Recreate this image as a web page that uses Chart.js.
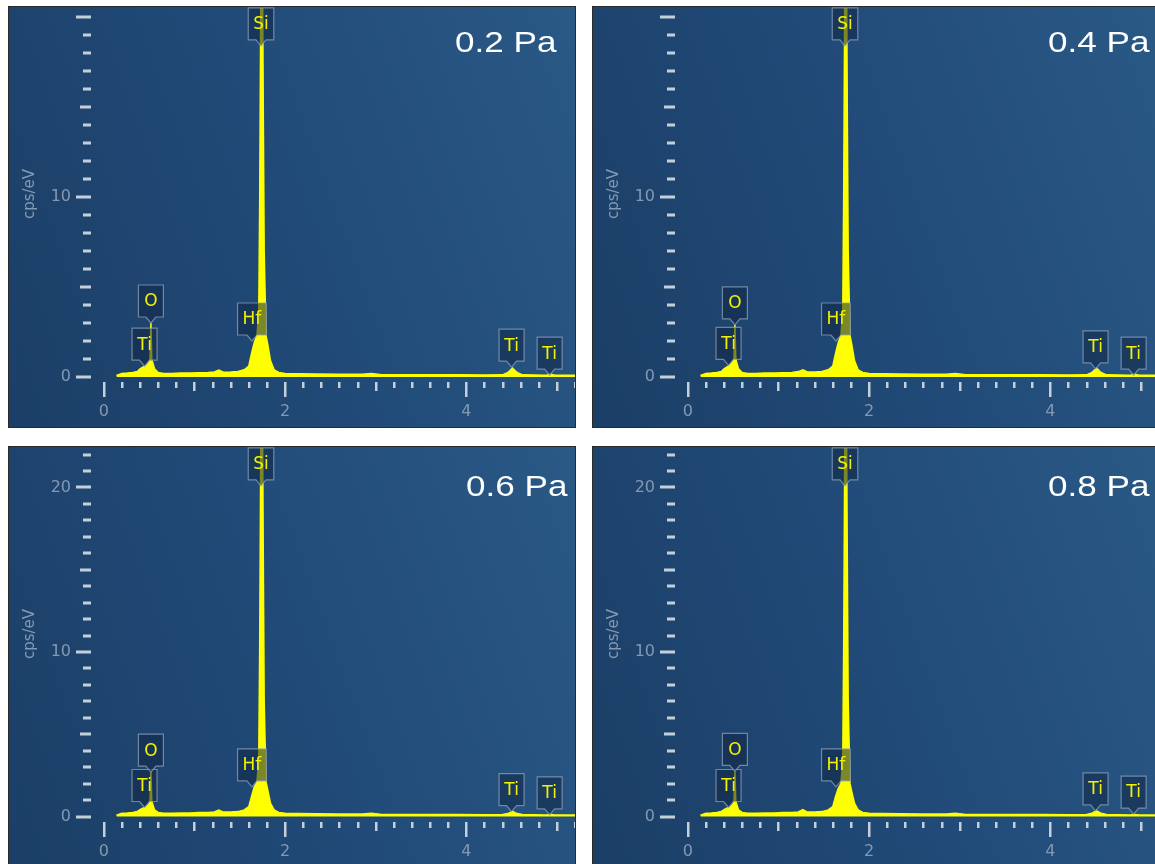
<!DOCTYPE html>
<html>
<head>
<meta charset="utf-8">
<script src="https://cdn.jsdelivr.net/npm/chart.js@4.4.0/dist/chart.umd.min.js"></script>
<style>
  body { margin: 0; background: #fff; width: 1155px; height: 864px; overflow: hidden; position: relative; }
  .panel { position: absolute; width: 566px; height: 420px; border: 1px solid #2a2a2a;
    background: linear-gradient(70deg, #1b3f66 0%, #214a78 50%, #2a5986 100%); }
  .panel canvas { display: block; }
  .pa { position: absolute; font-family: "Liberation Sans", Arial, sans-serif; font-size: 29px;
    line-height: 29px; color: #fff; transform: scaleX(1.21); transform-origin: left top; white-space: nowrap; }
</style>
</head>
<body>
<div class="panel" style="left:8px;top:6px"><canvas id="c1" width="566" height="420"></canvas></div>
<div class="panel" style="left:592px;top:6px"><canvas id="c2" width="566" height="420"></canvas></div>
<div class="panel" style="left:8px;top:446px"><canvas id="c3" width="566" height="420"></canvas></div>
<div class="panel" style="left:592px;top:446px"><canvas id="c4" width="566" height="420"></canvas></div>
<div class="pa" style="left:455px;top:28px">0.2 Pa</div>
<div class="pa" style="left:1048px;top:28px">0.4 Pa</div>
<div class="pa" style="left:466px;top:472px">0.6 Pa</div>
<div class="pa" style="left:1048px;top:472px">0.8 Pa</div>
<script>
// energy axis (keV), shared by all four spectra
const energy = [0.14, 0.20, 0.26, 0.32, 0.37, 0.40, 0.43, 0.46, 0.49, 0.51, 0.52, 0.53, 0.54, 0.56, 0.60,
  0.66, 0.75, 0.85, 0.95, 1.05, 1.15, 1.22, 1.27, 1.32, 1.40, 1.48, 1.55, 1.60, 1.63, 1.66, 1.69,
  1.71, 1.72, 1.73, 1.74, 1.75, 1.76, 1.77, 1.79, 1.81, 1.84, 1.88, 1.93, 2.00, 2.15, 2.35, 2.60,
  2.85, 2.95, 3.05, 3.30, 3.60, 3.90, 4.20, 4.40, 4.46, 4.51, 4.56, 4.62, 4.75, 4.88, 4.93, 4.98,
  5.10, 5.30];

// cps/eV for each pressure
const counts02 = [0.08, 0.2, 0.22, 0.25, 0.3, 0.45, 0.55, 0.6, 0.75, 0.95, 3.0, 0.95, 0.8, 0.45, 0.25,
  0.2, 0.2, 0.22, 0.22, 0.24, 0.25, 0.28, 0.38, 0.27, 0.28, 0.3, 0.4, 0.6, 1.3, 1.9, 2.3,
  3.5, 9.5, 18.5, 30, 24, 15, 7, 2.3, 1.8, 0.9, 0.4, 0.25, 0.2, 0.18, 0.17, 0.15,
  0.15, 0.2, 0.14, 0.13, 0.12, 0.12, 0.11, 0.12, 0.25, 0.5, 0.25, 0.12, 0.11, 0.1, 0.15, 0.1,
  0.1, 0.1];
const counts04 = [0.08, 0.2, 0.22, 0.25, 0.3, 0.45, 0.55, 0.65, 0.8, 1.0, 2.9, 1.0, 0.8, 0.45, 0.25,
  0.2, 0.2, 0.22, 0.22, 0.24, 0.25, 0.3, 0.4, 0.28, 0.28, 0.3, 0.4, 0.6, 1.3, 1.9, 2.3,
  3.6, 9.8, 19, 31, 25, 15, 7, 2.3, 1.8, 0.9, 0.4, 0.25, 0.2, 0.18, 0.17, 0.15,
  0.15, 0.2, 0.14, 0.13, 0.12, 0.12, 0.11, 0.12, 0.25, 0.5, 0.25, 0.12, 0.11, 0.1, 0.15, 0.1,
  0.1, 0.1];
const counts06 = [0.08, 0.2, 0.22, 0.25, 0.3, 0.42, 0.5, 0.55, 0.7, 0.9, 2.7, 0.9, 0.75, 0.4, 0.25,
  0.2, 0.2, 0.22, 0.22, 0.24, 0.25, 0.28, 0.4, 0.27, 0.28, 0.3, 0.4, 0.6, 1.2, 1.8, 2.1,
  3.5, 10, 20, 32, 26, 16, 7, 2.1, 1.6, 0.8, 0.4, 0.25, 0.2, 0.18, 0.17, 0.15,
  0.15, 0.2, 0.14, 0.13, 0.12, 0.12, 0.11, 0.12, 0.18, 0.32, 0.18, 0.12, 0.11, 0.1, 0.13, 0.1,
  0.1, 0.1];
const counts08 = [0.08, 0.2, 0.22, 0.25, 0.3, 0.42, 0.5, 0.55, 0.7, 0.9, 2.75, 0.9, 0.75, 0.4, 0.25,
  0.2, 0.2, 0.22, 0.22, 0.24, 0.25, 0.28, 0.42, 0.27, 0.28, 0.3, 0.4, 0.6, 1.2, 1.7, 2.0,
  3.4, 10, 20, 32, 26, 16, 7, 2.0, 1.5, 0.8, 0.4, 0.25, 0.2, 0.18, 0.17, 0.15,
  0.15, 0.2, 0.14, 0.13, 0.12, 0.12, 0.11, 0.12, 0.2, 0.35, 0.2, 0.12, 0.11, 0.1, 0.13, 0.1,
  0.1, 0.1];

// element markers
const peakNames = ["Ti", "O", "Hf", "Si", "Ti", "Ti"];
const peakEnergy = [0.45, 0.52, 1.635, 1.735, 4.50, 4.92];
const tips02 = [0.6, 3.0, 2.0, 18.4, 0.55, 0.1];
const tips04 = [0.65, 2.9, 2.0, 18.4, 0.45, 0.1];
const tips06 = [0.55, 2.7, 1.8, 20.1, 0.3, 0.1];
const tips08 = [0.55, 2.75, 1.8, 20.1, 0.35, 0.15];

// tick labels
const xTickLabels = [0, 2, 4];
const yTickLabelsTop = [0, 10];
const yTickLabelsBottom = [0, 10, 20];

const labelColor = "#8399b3";
const tickColor = "#c3cfdb";

// tick dashes drawn from the scales' own ticks
const tickMarks = {
  id: "tickMarks",
  afterDraw(chart) {
    const { ctx, chartArea, scales: { x, y } } = chart;
    ctx.save();
    ctx.fillStyle = tickColor;
    y.ticks.forEach(t => {
      const v = Math.round(t.value);
      if (Math.abs(t.value - v) > 1e-6 || v < 0) return;
      const py = Math.round(y.getPixelForValue(v));
      const len = v % 10 === 0 ? 15 : v % 5 === 0 ? 11 : 8;
      ctx.fillRect(chartArea.left - 1 - len, py - 1.5, len, 3);
    });
    x.ticks.forEach(t => {
      const k = Math.round(t.value * 5);
      if (Math.abs(t.value - k / 5) > 1e-6 || k < 0) return;
      const px = Math.round(x.getPixelForValue(k / 5));
      const len = k % 10 === 0 ? 15 : k % 5 === 0 ? 9 : 6;
      ctx.fillRect(px - 1, chartArea.bottom + 2, 2.5, len);
    });
    ctx.restore();
  }
};

// element labels (boxes with a pointer)
const peakLabels = {
  id: "peakLabels",
  afterDatasetsDraw(chart, args, opts) {
    const { ctx, scales: { x, y } } = chart;
    ctx.save();
    ctx.font = '17px "DejaVu Sans"';
    ctx.textAlign = "center";
    ctx.textBaseline = "middle";
    peakNames.forEach((name, i) => {
      const px = x.getPixelForValue(peakEnergy[i]);
      const tip = y.getPixelForValue(opts.tips[i]);
      const w = Math.max(25, ctx.measureText(name).width + 10);
      const bottom = tip - 6;
      const top = bottom - 32;
      ctx.beginPath();
      ctx.moveTo(px - w / 2, top);
      ctx.lineTo(px + w / 2, top);
      ctx.lineTo(px + w / 2, bottom);
      ctx.lineTo(px + 5, bottom);
      ctx.lineTo(px, tip);
      ctx.lineTo(px - 5, bottom);
      ctx.lineTo(px - w / 2, bottom);
      ctx.closePath();
      ctx.fillStyle = "rgba(16, 38, 68, 0.55)";
      ctx.fill();
      ctx.strokeStyle = "rgba(140, 160, 185, 0.75)";
      ctx.lineWidth = 1.2;
      ctx.stroke();
      ctx.fillStyle = "#f2f200";
      ctx.fillText(name, px, (top + bottom) / 2 + 1);
    });
    ctx.restore();
  }
};

// keep the plot area where the picture has it
function noPad(s) {
  s.paddingTop = 0;
  s.paddingBottom = 0;
  s.paddingLeft = 0;
  s.paddingRight = 0;
}

function makeChart(id, counts, tips, yMin, yMax, yLabels) {
  const ctx = document.getElementById(id).getContext("2d");
  return new Chart(ctx, {
    type: "line",
    data: {
      datasets: [{
        data: energy.map((e, i) => ({ x: e, y: counts[i] })),
        borderColor: "#ffff00",
        backgroundColor: "#ffff00",
        borderWidth: 1.5,
        fill: "origin",
        pointRadius: 0,
        tension: 0
      }]
    },
    options: {
      responsive: false,
      animation: false,
      devicePixelRatio: 1,
      layout: { padding: { top: 1, right: 0, left: 0, bottom: 0 } },
      plugins: {
        legend: { display: false },
        tooltip: { enabled: false },
        peakLabels: { tips: tips }
      },
      scales: {
        x: {
          type: "linear",
          min: -0.13,
          max: 5.2,
          grid: { display: false, drawTicks: false },
          border: { display: false },
          afterFit: s => { s.height = 47; noPad(s); },
          ticks: {
            stepSize: 0.2,
            autoSkip: false,
            includeBounds: false,
            maxRotation: 0,
            padding: 22,
            color: labelColor,
            font: { family: "DejaVu Sans", size: 16 },
            callback: v => xTickLabels.some(l => Math.abs(l - v) < 1e-6) ? Math.round(v) : ""
          }
        },
        y: {
          min: yMin,
          max: yMax,
          grid: { display: false, drawTicks: false },
          border: { display: false },
          afterFit: s => { s.width = 83; noPad(s); },
          title: {
            display: true,
            text: "cps/eV",
            color: labelColor,
            font: { family: "DejaVu Sans", size: 15 },
            padding: { top: 12, bottom: 0 }
          },
          ticks: {
            stepSize: 1,
            autoSkip: false,
            includeBounds: false,
            padding: 21,
            color: labelColor,
            font: { family: "DejaVu Sans", size: 16 },
            callback: v => yLabels.includes(v) ? v : ""
          }
        }
      }
    },
    plugins: [tickMarks, peakLabels]
  });
}

makeChart("c1", counts02, tips02, -0.167, 20.5, yTickLabelsTop);
makeChart("c2", counts04, tips04, -0.167, 20.5, yTickLabelsTop);
makeChart("c3", counts06, tips06, -0.21, 22.4, yTickLabelsBottom);
makeChart("c4", counts08, tips08, -0.21, 22.4, yTickLabelsBottom);
</script>
</body>
</html>
